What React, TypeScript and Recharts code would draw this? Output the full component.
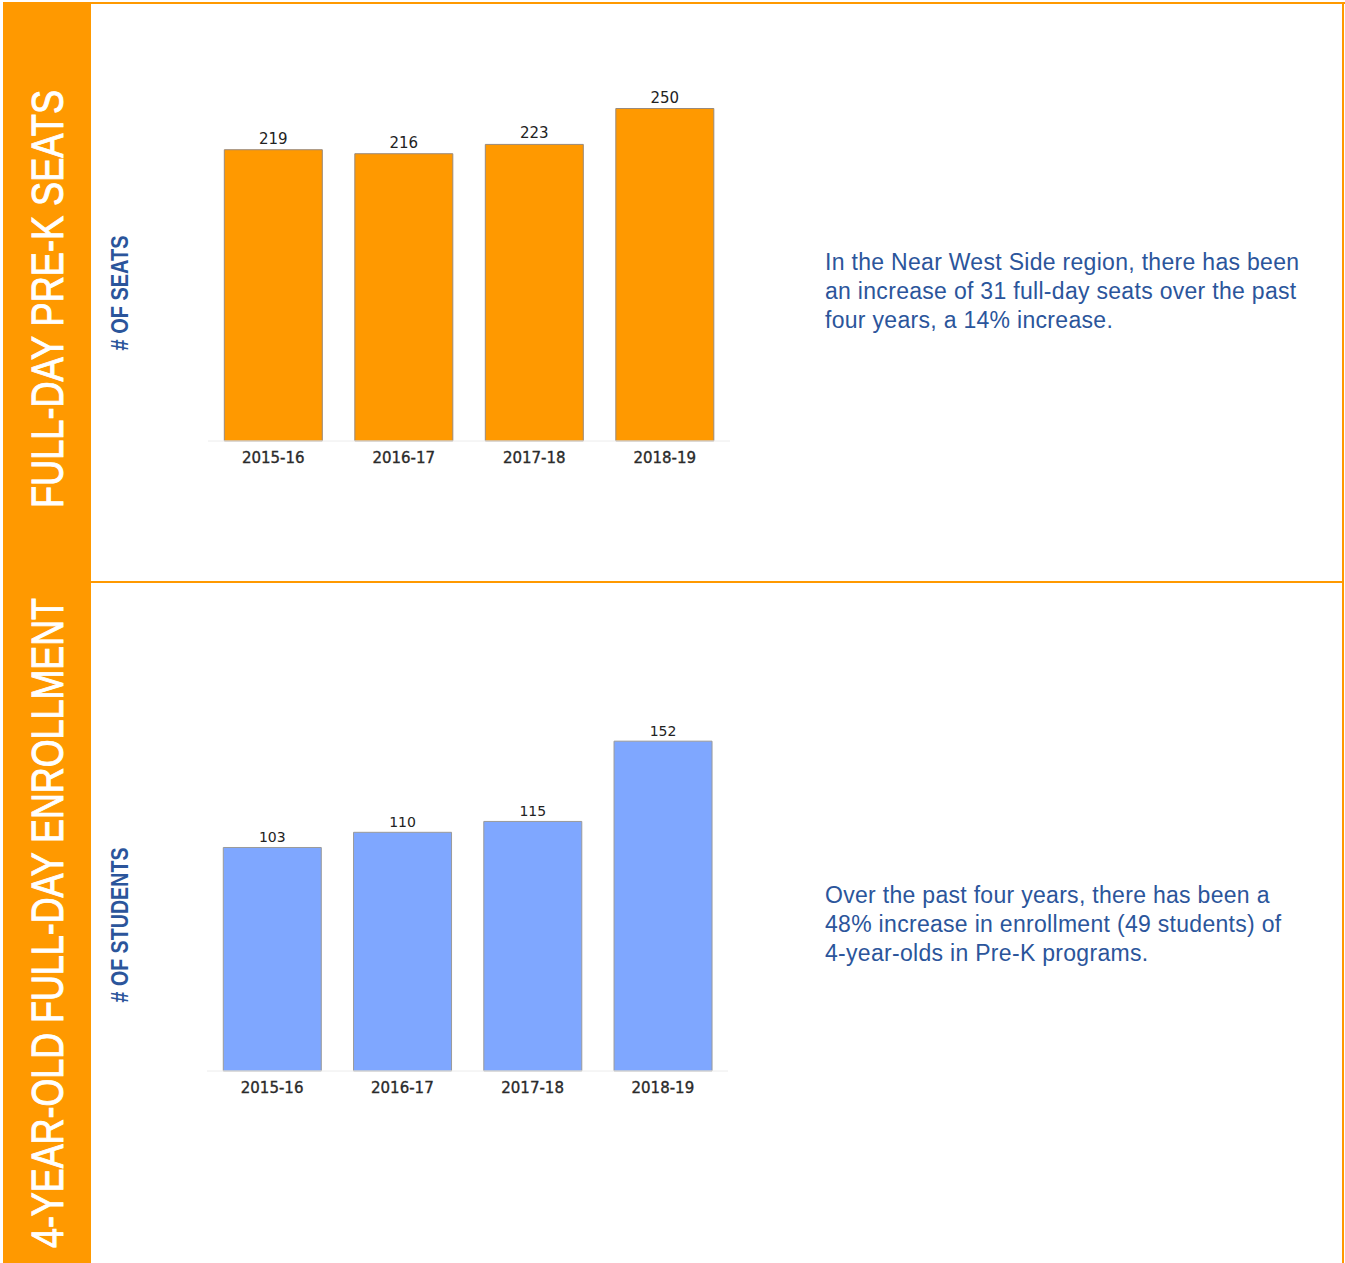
import { BarChart, Bar, XAxis, YAxis, LabelList } from 'recharts';

// ─── Data ────────────────────────────────────────────────────────────────────
const years = ['2015-16', '2016-17', '2017-18', '2018-19'];
const seats = [219, 216, 223, 250];
const students = [103, 110, 115, 152];

const seatsData = years.map((year, i) => ({ year, value: seats[i] }));
const studentsData = years.map((year, i) => ({ year, value: students[i] }));

const ORANGE = '#ff9900';
const BLUE_BAR = '#7fa7ff';
const TEXT_BLUE = '#2b559b';
const TICK = {
  fontSize: 15,
  fill: '#2a2a2a',
  stroke: '#2a2a2a',
  strokeWidth: 0.35,
  fontFamily: 'DejaVu Sans, sans-serif',
};

// rotated title drawn as svg so its length can be pinned
function VerticalTitle({
  text, width, height, center, length, size, color, weight, thicken = 0,
}: {
  text: string; width: number; height: number; center: number; length: number;
  size: number; color: string; weight: number; thicken?: number;
}) {
  return (
    <svg width={width} height={height} style={{ display: 'block' }}>
      <text
        x={0}
        y={0}
        transform={`translate(${width / 2 + size * 0.36}, ${center}) rotate(-90)`}
        textAnchor="middle"
        textLength={length}
        lengthAdjust="spacingAndGlyphs"
        fontSize={size}
        fontWeight={weight}
        fill={color}
        stroke={thicken ? color : undefined}
        strokeWidth={thicken}
        fontFamily="'Liberation Sans Narrow', 'Liberation Sans', Arial, sans-serif"
      >
        {text}
      </text>
    </svg>
  );
}

function SeatsChart() {
  return (
    <BarChart
      width={650}
      height={580}
      data={seatsData}
      margin={{ top: 42, right: 20, left: 108, bottom: 109 }}
      barCategoryGap="12.5%"
    >
      <XAxis
        dataKey="year"
        height={30}
        tick={TICK}
        tickLine={false}
        tickMargin={5}
        axisLine={{ stroke: '#ececec' }}
      />
      <YAxis hide domain={[0, 300]} />
      <Bar dataKey="value" fill={ORANGE} stroke="#9a8a7a" strokeWidth={1} isAnimationActive={false}>
        <LabelList
          dataKey="value"
          position="top"
          offset={6}
          style={{ fontSize: 15, fill: '#222', fontFamily: 'DejaVu Sans, sans-serif' }}
        />
      </Bar>
    </BarChart>
  );
}

function StudentsChart() {
  return (
    <BarChart
      width={650}
      height={600}
      data={studentsData}
      margin={{ top: 54, right: 22, left: 107, bottom: 82 }}
      barCategoryGap="12.5%"
    >
      <XAxis
        dataKey="year"
        height={30}
        tick={TICK}
        tickLine={false}
        tickMargin={5}
        axisLine={{ stroke: '#ececec' }}
      />
      <YAxis hide domain={[0, 200]} />
      <Bar dataKey="value" fill={BLUE_BAR} stroke="#9a9a9a" strokeWidth={1} isAnimationActive={false}>
        <LabelList
          dataKey="value"
          position="top"
          offset={5}
          style={{ fontSize: 14, fill: '#222', fontFamily: 'DejaVu Sans, sans-serif' }}
        />
      </Bar>
    </BarChart>
  );
}

const noteStyle: React.CSSProperties = {
  position: 'absolute',
  left: 825,
  width: 515,
  fontFamily: "'Liberation Sans', Arial, sans-serif",
  fontSize: 23,
  letterSpacing: 0.3,
  lineHeight: '29px',
  color: TEXT_BLUE,
  whiteSpace: 'nowrap',
};

export default function App() {
  return (
    <div
      style={{
        position: 'absolute',
        left: 0,
        top: 0,
        width: 1345,
        height: 1263,
        background: '#fff',
        overflow: 'hidden',
      }}
    >
      {/* frame */}
      <div style={{ position: 'absolute', left: 3, top: 2, width: 1342, height: 2, background: ORANGE }} />
      <div style={{ position: 'absolute', left: 1342, top: 2, width: 2, height: 1261, background: ORANGE }} />
      <div style={{ position: 'absolute', left: 91, top: 581, width: 1253, height: 2, background: ORANGE }} />
      <div style={{ position: 'absolute', left: 3, top: 3, width: 88, height: 1260, background: ORANGE }} />

      {/* side band titles */}
      <div style={{ position: 'absolute', left: 3, top: 3 }}>
        <VerticalTitle text="FULL-DAY PRE-K SEATS" width={88} height={578} center={296} length={418} size={45} color="#fff" weight={400} thicken={1} />
      </div>
      <div style={{ position: 'absolute', left: 3, top: 583 }}>
        <VerticalTitle text="4-YEAR-OLD FULL-DAY ENROLLMENT" width={88} height={680} center={340} length={650} size={45} color="#fff" weight={400} thicken={1} />
      </div>

      {/* axis titles */}
      <div style={{ position: 'absolute', left: 100, top: 193 }}>
        <VerticalTitle text="# OF SEATS" width={38} height={200} center={100} length={115} size={24} color={TEXT_BLUE} weight={700} />
      </div>
      <div style={{ position: 'absolute', left: 100, top: 825 }}>
        <VerticalTitle text="# OF STUDENTS" width={38} height={200} center={100} length={155} size={24} color={TEXT_BLUE} weight={700} />
      </div>

      {/* charts */}
      <div style={{ position: 'absolute', left: 100, top: 0 }}>
        <SeatsChart />
      </div>
      <div style={{ position: 'absolute', left: 100, top: 583 }}>
        <StudentsChart />
      </div>

      {/* notes */}
      <div style={{ ...noteStyle, top: 248 }}>
        In the Near West Side region, there has been
        <br />
        an increase of 31 full-day seats over the past
        <br />
        four years, a 14% increase.
      </div>
      <div style={{ ...noteStyle, top: 881 }}>
        Over the past four years, there has been a
        <br />
        48% increase in enrollment (49 students) of
        <br />
        4-year-olds in Pre-K programs.
      </div>
    </div>
  );
}
